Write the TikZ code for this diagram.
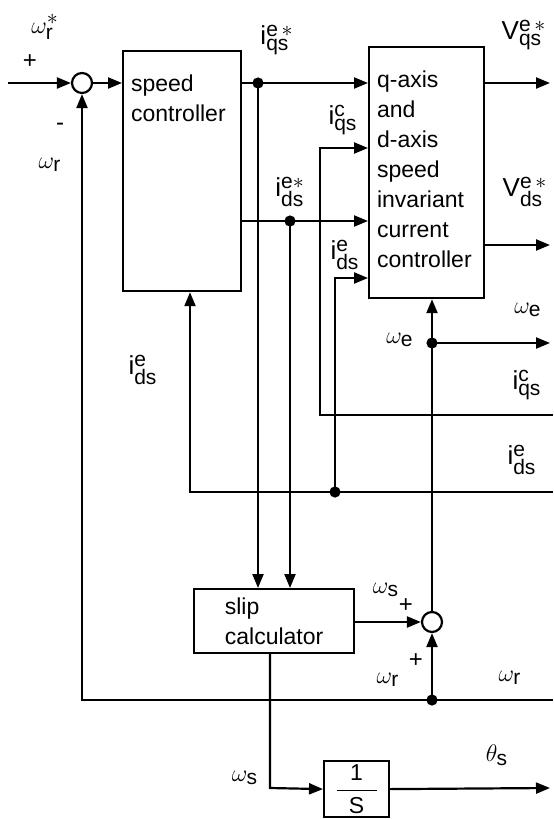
\documentclass[tikz,border=0pt]{standalone}
\usepackage{fontspec}
\setmainfont{Liberation Sans}
\usetikzlibrary{arrows.meta,positioning}
\DeclareMathSizes{13}{13}{10.5}{8}

\begin{document}
\begin{tikzpicture}[
  x=0.5pt, y=-0.5pt,
  line width=1.1pt,
  >={Triangle[length=7pt,width=5.5pt]},
  every node/.style={font=\fontsize{11.5}{15}\selectfont},
  blockbox/.style={draw, rectangle, inner sep=0pt, anchor=north west},
  sumnode/.style={draw, circle, minimum size=10pt, inner sep=0pt},
  sig/.style={font=\fontsize{13}{15}\selectfont, inner sep=0pt},
  pm/.style={font=\fontsize{12}{14}\selectfont, inner sep=0pt},
]

% --- Frame ---
\useasboundingbox (0,0) rectangle (553,819);

% --- Blocks ---
\node[sumnode] (sum1) at (82,83) {};
\node[blockbox, minimum width=59pt, minimum height=120pt] (spd) at (122,50) {};
\node[anchor=north west, align=left, inner sep=0pt] (spdtxt) at (130,74) {speed\\controller};
\node[blockbox, minimum width=57.5pt, minimum height=125.5pt] (cc) at (368,46) {};
\node[anchor=north west, align=left, inner sep=0pt] (cctxt) at (376,70)
  {q-axis\\and\\d-axis\\speed\\invariant\\current\\controller};
\node[blockbox, minimum width=80pt, minimum height=32pt, align=left] (slip) at (193,588)
  {slip\\calculator};
\node[sumnode] (sum2) at (432,622) {};
\node[blockbox, minimum width=32.5pt, minimum height=28pt] (integ) at (323,760)
  {$\displaystyle\frac{\hbox to 20pt{\hss 1\hss}}{\mathrm{S}}$};

% --- Branch and end points ---
\coordinate (win)   at (8,83);
\coordinate (dq)    at (258,83);
\coordinate (vqR)   at (550,83);
\coordinate (qcT)   at (320,148);
\coordinate (dd)    at (290,221);
\coordinate (vdR)   at (550,245);
\coordinate (dcT)   at (335,278);
\coordinate (wedot) at (432,343);
\coordinate (weR)   at (550,343);
\coordinate (qcB)   at (320,415);
\coordinate (qcR)   at (553,415);
\coordinate (dcL)   at (190,492);
\coordinate (dcdot) at (335,492);
\coordinate (dcR)   at (553,492);
\coordinate (wrL)   at (82,700);
\coordinate (wrdot) at (432,700);
\coordinate (wrR)   at (553,700);
\coordinate (wsC)   at (270,788);
\coordinate (thR)   at (550,788);

% --- Speed loop ---
\draw[->] (win) -- (sum1);
\draw[->] (sum1) -- (sum1 -| spd.west);
\draw[->] (wrR) -- (wrL) -- (sum1);

% --- Current references ---
\draw[->] (dq -| spd.east) -- (dq -| cc.west);
\draw[->] (dq) -- (dq |- slip.north);
\draw[->] (dd -| spd.east) -- (dd -| cc.west);
\draw[->] (dd) -- (dd |- slip.north);

% --- Measured currents ---
\draw[->] (qcR) -- (qcB) -- (qcT) -- (qcT -| cc.west);
\draw[->] (dcR) -- (dcL) -- (dcL |- spd.south);
\draw[->] (dcdot) -- (dcT) -- (dcT -| cc.west);

% --- Voltage outputs ---
\draw[->] (vqR -| cc.east) -- (vqR);
\draw[->] (vdR -| cc.east) -- (vdR);

% --- Slip and angle ---
\draw[->] (sum2 -| slip.east) -- (sum2);
\draw[->] (wrdot) -- (sum2);
\draw[->] (sum2) -- (sum2 |- cc.south);
\draw[->] (wedot) -- (weR);
\draw[->] (slip.south -| wsC) -- (wsC) -- (integ.west);
\draw[->] (integ.east) -- (thR);

% --- Dots ---
\foreach \p in {dq, dd, wedot, dcdot, wrdot} {
  \fill (\p) circle (2.8pt);
}

% --- Labels ---
\node[sig] (lwrs)  at (45,27)   {$\omega^{*}_{\mathrm{r}}$};
\node[pm]  (lp1)   at (30,62)   {+};
\node[pm]  (lm1)   at (60,127)  {-};
\node[sig] (lwr1)  at (50,165)  {$\omega_{\mathrm{r}}$};
\node[sig] (liqs)  at (277,40)  {$\mathrm{i}^{\mathrm{e}\,*}_{\mathrm{qs}}$};
\node[sig] (lvqs)  at (524,35)  {$\mathrm{V}^{\mathrm{e}\,*}_{\mathrm{qs}}$};
\node[sig] (liqc)  at (343,120) {$\mathrm{i}^{\mathrm{c}}_{\mathrm{qs}}$};
\node[sig] (lids)  at (290,192) {$\mathrm{i}^{\mathrm{e}*}_{\mathrm{ds}}$};
\node[sig] (lvds)  at (525,192) {$\mathrm{V}^{\mathrm{e}\,*}_{\mathrm{ds}}$};
\node[sig] (lidc)  at (345,255) {$\mathrm{i}^{\mathrm{e}}_{\mathrm{ds}}$};
\node[sig] (lwe1)  at (528,310) {$\omega_{\mathrm{e}}$};
\node[sig] (lwe2)  at (400,340) {$\omega_{\mathrm{e}}$};
\node[sig] (liqR)  at (527,385) {$\mathrm{i}^{\mathrm{c}}_{\mathrm{qs}}$};
\node[sig] (lidL)  at (143,370) {$\mathrm{i}^{\mathrm{e}}_{\mathrm{ds}}$};
\node[sig] (lidR)  at (522,460) {$\mathrm{i}^{\mathrm{e}}_{\mathrm{ds}}$};
\node[sig] (lws1)  at (386,590) {$\omega_{\mathrm{s}}$};
\node[pm]  (lp2)   at (406,606) {+};
\node[sig] (lwr2)  at (388,680) {$\omega_{\mathrm{r}}$};
\node[pm]  (lp3)   at (416,661) {+};
\node[sig] (lwr3)  at (510,678) {$\omega_{\mathrm{r}}$};
\node[sig] (lths)  at (497,755) {$\theta_{\mathrm{s}}$};
\node[sig] (lws2)  at (245,778) {$\omega_{\mathrm{s}}$};

\end{tikzpicture}
\end{document}
